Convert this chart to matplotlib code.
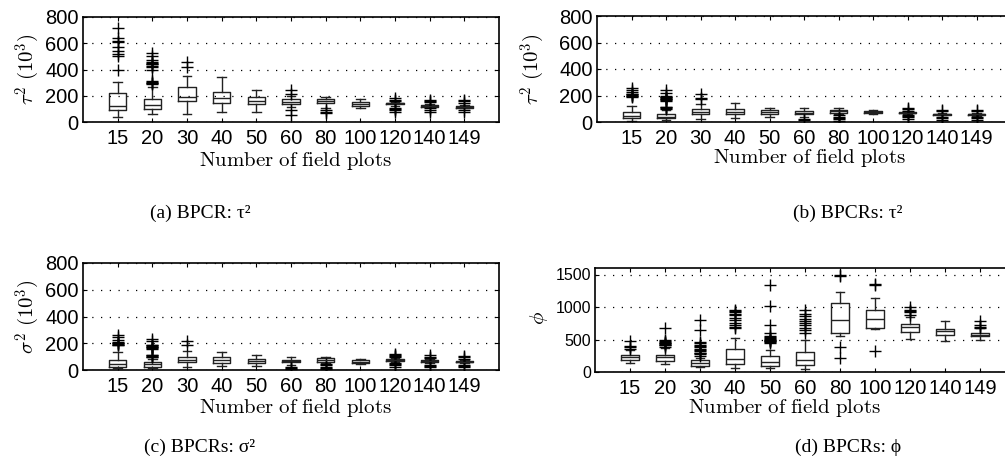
import matplotlib
matplotlib.use("Agg")
import matplotlib.pyplot as plt

plt.rcParams['mathtext.fontset'] = 'cm'
plt.rcParams['font.family'] = ['Liberation Sans', 'DejaVu Sans']

plots = ['15', '20', '30', '40', '50', '60', '80', '100', '120', '140', '149']

# (a) BPCR: tau^2 (x 10^3)
a_q1 = [92, 97, 160, 143, 135, 137, 148, 122, 135, 118, 110]
a_med = [125, 130, 189, 181, 160, 155, 160, 140, 142, 125, 118]
a_q3 = [219, 173, 265, 232, 194, 173, 173, 155, 148, 130, 124]
a_lo = [41, 59, 59, 74, 79, 112, 105, 105, 125, 112, 105]
a_hi = [308, 270, 354, 346, 244, 200, 189, 173, 155, 138, 130]
a_out = [[400, 500, 520, 540, 575, 610, 620, 640, 720],
         [290, 295, 300, 305, 310, 400, 420, 430, 440, 445, 450, 460, 470, 500, 525],
         [420, 460],
         [],
         [],
         [55, 90, 210, 245],
         [70, 80, 90],
         [],
         [80, 95, 100, 110, 160, 170, 180],
         [80, 95, 105, 150, 160, 168],
         [75, 90, 145, 160, 168]]

# (b) BPCRs: tau^2 (x 10^3)
b_q1 = [27, 28, 58, 58, 58, 60, 70, 70, 65, 56, 54]
b_med = [48, 40, 77, 77, 73, 70, 80, 76, 70, 60, 58]
b_q3 = [77, 58, 97, 97, 90, 82, 90, 82, 75, 64, 62]
b_lo = [8, 12, 20, 32, 35, 40, 60, 62, 58, 50, 48]
b_hi = [122, 90, 135, 140, 107, 102, 102, 90, 82, 70, 68]
b_out = [[190, 195, 200, 205, 210, 215, 225, 240, 255],
         [100, 105, 110, 115, 160, 165, 170, 175, 180, 185, 190, 200, 220, 240],
         [170, 180, 215],
         [],
         [],
         [15, 25],
         [10, 20, 30, 40, 50],
         [],
         [25, 35, 45, 55, 85, 95, 105],
         [18, 30, 40, 80, 92],
         [18, 30, 40, 80, 92]]

# (c) BPCRs: sigma^2 (x 10^3)
c_q1 = [25, 25, 57, 55, 55, 57, 62, 52, 68, 62, 58]
c_med = [47, 42, 77, 75, 67, 67, 75, 62, 75, 67, 62]
c_q3 = [75, 57, 95, 95, 80, 77, 87, 72, 82, 72, 68]
c_lo = [12, 12, 20, 30, 30, 37, 55, 45, 60, 55, 50]
c_hi = [132, 80, 145, 137, 110, 100, 95, 82, 90, 80, 76]
c_out = [[185, 190, 195, 200, 205, 210, 225, 245, 265],
         [95, 100, 105, 110, 115, 160, 165, 170, 175, 180, 185, 190, 215, 235],
         [185, 220],
         [],
         [],
         [5, 15, 25],
         [5, 15, 25, 35, 45],
         [],
         [25, 35, 45, 55, 95, 105, 115, 120],
         [20, 30, 40, 90, 100, 112],
         [20, 30, 40, 85, 95, 107]]

# (d) BPCRs: phi
d_q1 = [189, 174, 97, 123, 97, 113, 599, 675, 614, 563, 548]
d_med = [230, 225, 138, 205, 154, 179, 803, 813, 686, 624, 573]
d_q3 = [266, 261, 179, 358, 240, 302, 1059, 957, 737, 665, 599]
d_lo = [138, 128, 72, 61, 56, 51, 560, 660, 507, 471, 496]
d_hi = [343, 370, 215, 522, 343, 496, 1238, 1136, 845, 788, 675]
d_out = [[360, 380, 400, 470],
         [380, 410, 420, 430, 440, 450, 460, 480, 490, 675],
         [250, 270, 290, 300, 320, 340, 360, 380, 400, 420, 440, 460, 650, 800],
         [680, 700, 720, 760, 800, 830, 870, 900, 920, 940, 960],
         [450, 460, 470, 480, 490, 500, 510, 520, 540, 560, 600, 720, 1010, 1340],
         [600, 640, 680, 720, 750, 780, 820, 860, 900, 950],
         [210, 390, 1470, 1500],
         [330, 1340, 1350],
         [880, 920, 935, 950, 1000],
         [],
         [680, 700, 720, 790]]

panels = [
    dict(q1=a_q1, med=a_med, q3=a_q3, lo=a_lo, hi=a_hi, out=a_out,
         rect=[83 / 1005, 1 - 122 / 463, 416 / 1005, 105 / 463],
         ylim=800, yticks=[0, 200, 400, 600, 800], ylabel=r'$\tau^2\ (10^3)$',
         ylc=(-0.132, 0.5), xlc=(0.51, -0.27), ysize=14.5,
         caption='(a) BPCR: τ²', cap=(200, 213)),
    dict(q1=b_q1, med=b_med, q3=b_q3, lo=b_lo, hi=b_hi, out=b_out,
         rect=[597 / 1005, 1 - 122 / 463, 414 / 1005, 106 / 463],
         ylim=800, yticks=[0, 200, 400, 600, 800], ylabel=r'$\tau^2\ (10^3)$',
         ylc=(-0.155, 0.5), xlc=(0.514, -0.24), ysize=14.5,
         caption='(b) BPCRs: τ²', cap=(848, 213)),
    dict(q1=c_q1, med=c_med, q3=c_q3, lo=c_lo, hi=c_hi, out=c_out,
         rect=[83 / 1005, 1 - 370 / 463, 416 / 1005, 107 / 463],
         ylim=800, yticks=[0, 200, 400, 600, 800], ylabel=r'$\sigma^2\ (10^3)$',
         ylc=(-0.132, 0.5), xlc=(0.51, -0.25), ysize=14.5,
         caption='(c) BPCRs: σ²', cap=(200, 447)),
    dict(q1=d_q1, med=d_med, q3=d_q3, lo=d_lo, hi=d_hi, out=d_out,
         rect=[595 / 1005, 1 - 372 / 463, 420 / 1005, 104 / 463],
         ylim=1600, yticks=[0, 500, 1000, 1500], ylabel=r'$\phi$',
         ylc=(-0.133, 0.52), xlc=(0.45, -0.24), ysize=11.5,
         caption='(d) BPCRs: ϕ', cap=(848, 447)),
]

fig = plt.figure(figsize=(10.05, 4.63), dpi=100)

for p in panels:
    ax = fig.add_axes(p['rect'])
    stats = []
    for i in range(len(plots)):
        stats.append(dict(med=p['med'][i], q1=p['q1'][i], q3=p['q3'][i],
                          whislo=p['lo'][i], whishi=p['hi'][i],
                          fliers=p['out'][i], label=plots[i]))
    ax.bxp(stats, positions=range(1, len(plots) + 1), widths=0.5,
           capwidths=0.25, showfliers=True,
           boxprops=dict(color='#222222', lw=1),
           medianprops=dict(color='#222222', lw=1),
           whiskerprops=dict(color='#222222', lw=1, ls='-'),
           capprops=dict(color='#222222', lw=1),
           flierprops=dict(marker='+', markeredgecolor='black',
                           markersize=9, markeredgewidth=1))
    ax.set_xlim(0, 12)
    ax.set_ylim(0, p['ylim'])
    ax.set_yticks(p['yticks'])
    ax.set_xticks(range(1, len(plots) + 1))
    ax.set_xticklabels(plots)
    ax.yaxis.grid(True, ls=(0, (1, 6)), color='black', lw=0.9)
    ax.set_axisbelow(True)
    ax.tick_params(direction='in', top=True, right=True, length=3,
                   width=0.8, labelsize=14.5, pad=5)
    ax.tick_params(axis='y', labelsize=p['ysize'], pad=3)
    for s in ax.spines.values():
        s.set_linewidth(1.2)
    ax.set_ylabel(p['ylabel'], fontsize=15, va='center')
    ax.yaxis.set_label_coords(*p['ylc'])
    ax.set_xlabel(r'$\mathrm{Number\ of\ field\ plots}$', fontsize=15, va='top')
    ax.xaxis.set_label_coords(*p['xlc'])
    fig.text(p['cap'][0] / 1005, 1 - p['cap'][1] / 463, p['caption'],
             fontsize=14, family=['Liberation Serif', 'DejaVu Serif'],
             ha='center', va='center')

fig.savefig('out.png', dpi=100)
